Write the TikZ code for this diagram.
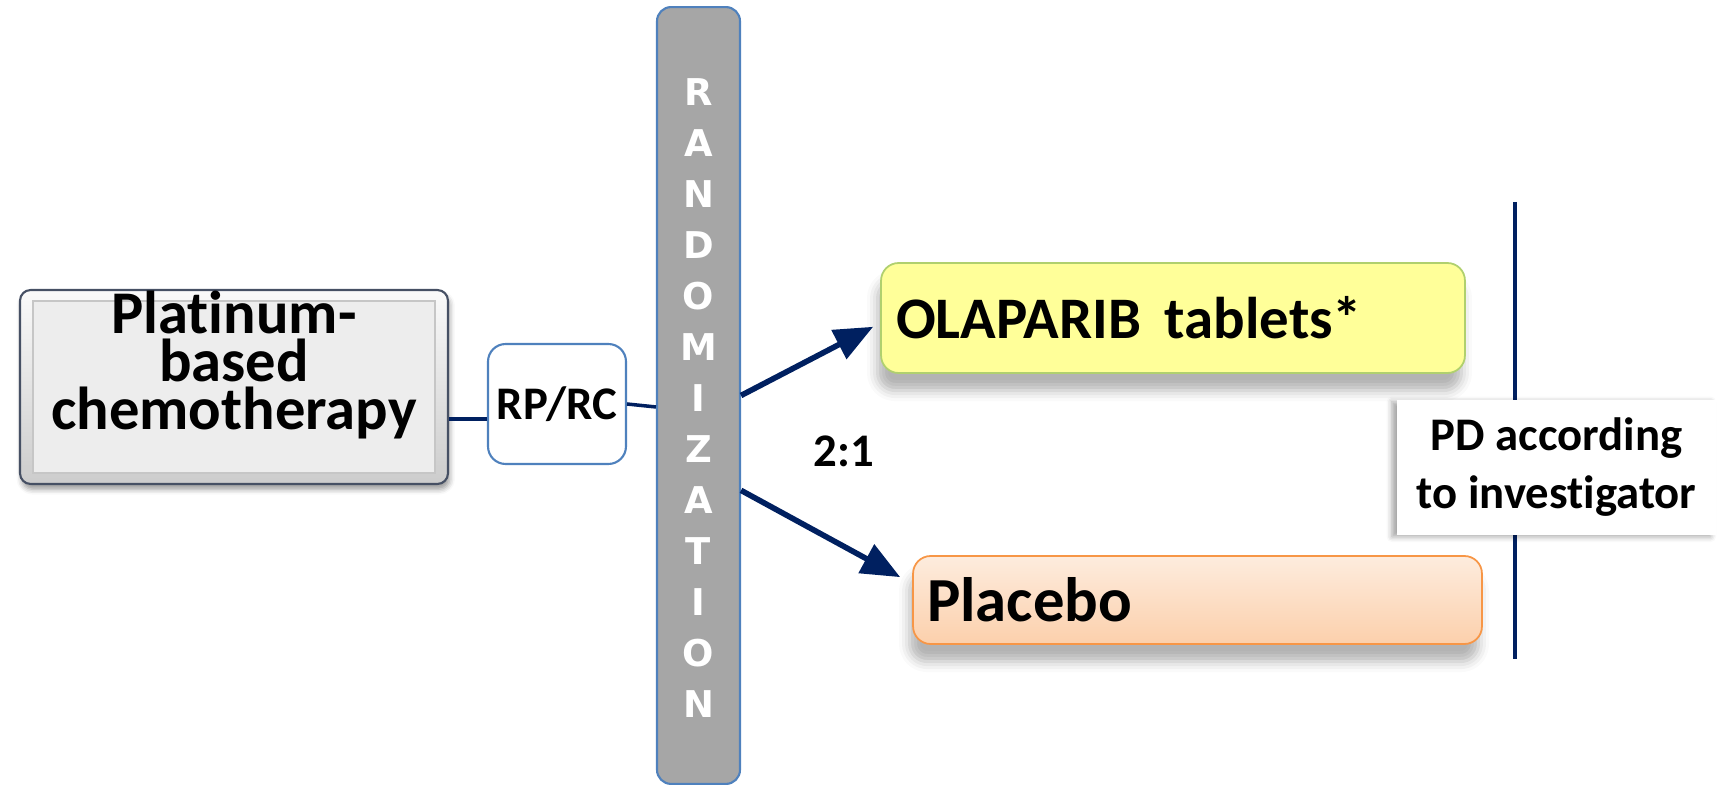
\documentclass[tikz,border=0pt]{standalone}
\usepackage{fontspec}
\setmainfont{Carlito}[Ligatures=NoCommon]
\newfontfamily\randfont{DejaVu Sans}[BoldFont={DejaVu Sans Bold}]
\usetikzlibrary{arrows.meta,shadows.blur,calc}
\definecolor{N}{RGB}{0, 32, 96}
\definecolor{B}{RGB}{79, 129, 189}
\definecolor{Y}{RGB}{255, 255, 153}
\definecolor{G}{RGB}{176, 208, 110}
\definecolor{O}{RGB}{247, 150, 70}
\definecolor{S}{RGB}{70, 80, 100}
\definecolor{Gy}{RGB}{166, 166, 166}

\begin{document}
\begin{tikzpicture}[x=0.02cm,y=-0.02cm,
  link/.style={N, line width=2pt},
  arr/.style={N, line width=3.2pt, -{Triangle[length=22pt,width=18pt]}},
  big/.style={font=\bfseries\fontsize{26.6}{33}\selectfont},
  soft/.style={blur shadow={shadow xshift=-2pt, shadow yshift=-10pt, shadow blur radius=6pt, shadow opacity=30}}]
  \useasboundingbox (0,0) rectangle (1734,786);

  % left box
  \node[draw=S, line width=1.2pt, rounded corners=6pt, top color=gray!4, bottom color=gray!40,
        blur shadow={shadow xshift=1pt, shadow yshift=-3pt, shadow blur radius=3pt},
        minimum width=8.56cm, minimum height=3.88cm] (plat) at (234,387) {};
  \draw[gray!45, line width=0.8pt, fill=gray!14] ($(plat.north west)+(14,12)$) rectangle ($(plat.south east)+(-14,-12)$);
  \node[align=center, font=\bfseries\fontsize{34.5}{27.5}\selectfont] (plattxt) at ([yshift=12.5pt]plat.center) {Platinum-\\based\\chemotherapy};

  \node[draw=B, line width=1.2pt, rounded corners=10pt, fill=white, big,
        minimum width=2.76cm, minimum height=2.4cm] (rp) at (557,404) {RP/RC};

  % randomization bar
  \node[draw=B, line width=1.2pt, fill=Gy, rounded corners=8pt,
        minimum width=1.66cm, minimum height=15.54cm] (rand) at (698.5,395.5) {};
  \foreach \ch [count=\i from 0] in {R,A,N,D,O,M,I,Z,A,T,I,O,N}
    \node[white, font=\randfont\bfseries\fontsize{21}{24}\selectfont] (let\i) at (698.5,92+51*\i) {\ch};

  \draw[link] ([yshift=-8.5pt]rp.west) -- ([yshift=-8.5pt]rp.west -| plat.east);
  \draw[link] (rp.east) -- ([yshift=-1.7pt]rp.east -| rand.west);

  % arms
  \node[draw=G, line width=1pt, fill=Y, rounded corners=10pt, soft,
        minimum width=11.68cm, minimum height=2.2cm, text width=11.08cm, inner xsep=8.5pt,
        align=left, font=\bfseries\fontsize{33.5}{36}\selectfont] (olap) at (1173,318) {OLAPARIB\hspace{0.4em}tablets*};
  \node[draw=O, line width=1pt, top color=O!18, bottom color=O!45, rounded corners=10pt, soft,
        minimum width=11.38cm, minimum height=1.76cm, text width=10.82cm, inner xsep=7.9pt,
        align=left, font=\bfseries\fontsize{35.7}{40}\selectfont] (plac) at (1197.5,600) {Placebo};

  \draw[arr] (rand.east) -- ([shift={(-4pt,-5pt)}]olap.west);
  \draw[arr] ([yshift=-54pt]rand.east) -- ([shift={(-6.8pt,13pt)}]plac.west);
  \node[big] (ratio) at (844,451) {2:1};

  % end point
  \coordinate (vtop) at (1515,202);
  \coordinate (vbot) at (1515,659);
  \draw[N, line width=2.3pt] (vtop) -- (vbot);
  \node[fill=white, big, align=center, minimum width=6.38cm, minimum height=2.7cm,
        blur shadow={shadow xshift=-3pt, shadow yshift=-1pt, shadow blur radius=3pt, shadow opacity=35}] (pd) at (1556.5,467.5) {PD according\\to investigator};
\end{tikzpicture}
\end{document}
